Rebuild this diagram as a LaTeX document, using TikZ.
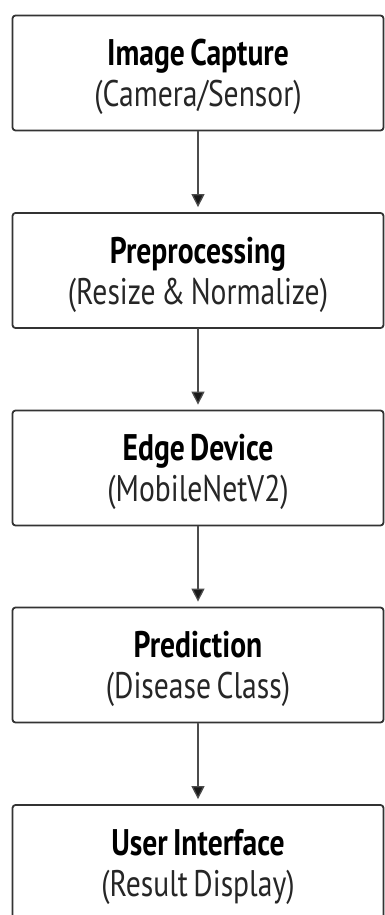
\documentclass[tikz,border=0pt]{standalone}
\usepackage{fontspec}
\setmainfont[FakeStretch=0.8,WordSpace=0.7]{PT Sans}
\usepackage{tikz}
\usetikzlibrary{arrows.meta}
\usetikzlibrary{positioning}

\tikzset{
  stagebox/.style={draw=black!80,line width=1.8pt,rounded corners=3pt,fill=white,
    minimum width=371pt,minimum height=115pt,align=center,inner sep=0pt,
    font=\fontsize{37}{41}\selectfont},
  flowarrow/.style={->,line width=1.3pt,draw=black!70,shorten >=5pt}
}
\newcommand{\stagetext}[2]{\rule{0pt}{35pt}\textbf{#1}\\\textcolor{black!85}{#2}}

\begin{document}
\begin{tikzpicture}[line cap=round,line join=round,>={Triangle[width=13pt,length=13pt,fill=black!90]},x=1pt,y=1pt]
\useasboundingbox (0,-915) rectangle (385,0);
\clip (0,-915) rectangle (385,0);
\node[stagebox] (capture) at (198,-73) {\stagetext{Image Capture}{(Camera/Sensor)}};
\node[stagebox] (prep) at (198,-270.5) {\stagetext{Preprocessing}{(Resize \& Normalize)}};
\node[stagebox] (edge) at (198,-468) {\stagetext{Edge Device}{(MobileNetV2)}};
\node[stagebox] (predict) at (198,-665) {\stagetext{Prediction}{(Disease Class)}};
\node[stagebox] (ui) at (198,-862.5) {\stagetext{User Interface}{(Result Display)}};
\draw [flowarrow] (capture) -- (prep);
\draw [flowarrow] (prep) -- (edge);
\draw [flowarrow] (edge) -- (predict);
\draw [flowarrow] (predict) -- (ui);
\end{tikzpicture}
\end{document}
